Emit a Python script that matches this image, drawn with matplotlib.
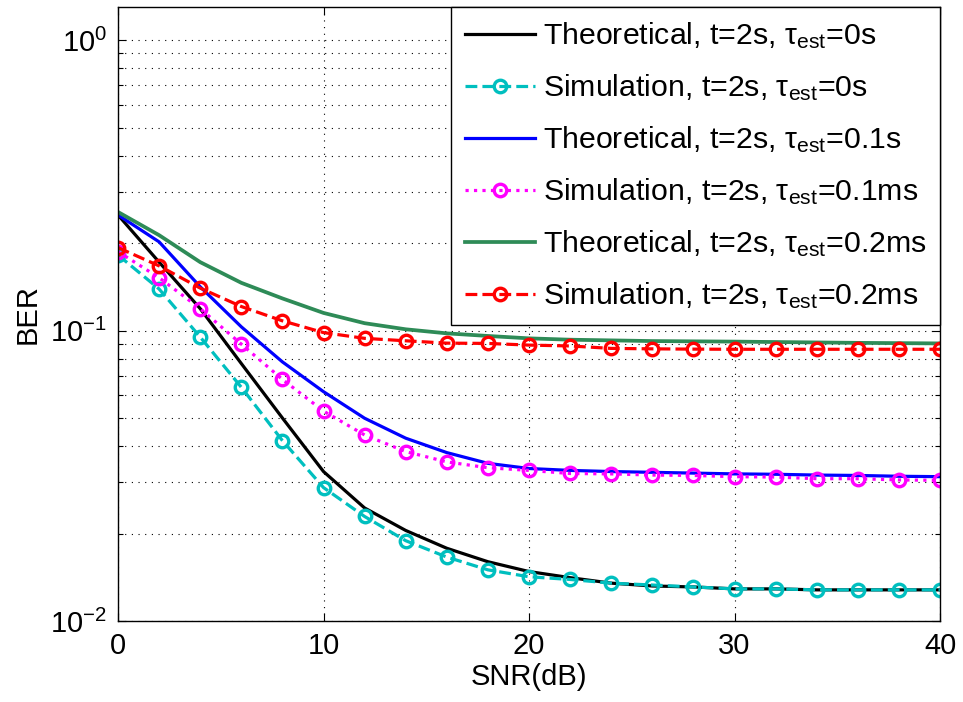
import numpy as np
import matplotlib
matplotlib.use('Agg')
import matplotlib.pyplot as plt
from matplotlib.ticker import LogLocator, NullFormatter, FixedLocator

# ============================================================
# 数据 (从图中读取, SNR 每 2 dB 一个点)
# ============================================================
snr = [0, 2, 4, 6, 8, 10, 12, 14, 16, 18, 20, 22, 24, 26, 28, 30, 32, 34, 36, 38, 40]

ber_theo_0 = [0.25, 0.172, 0.119, 0.077, 0.050, 0.0327, 0.0245, 0.0205, 0.0178, 0.0160, 0.0148,
              0.0141, 0.0135, 0.0132, 0.0131, 0.0129, 0.0129, 0.0128, 0.0128, 0.0128, 0.0128]
ber_sim_0 = [0.182, 0.139, 0.095, 0.0638, 0.0418, 0.0288, 0.0229, 0.0189, 0.0166, 0.0150, 0.0142,
             0.0139, 0.0135, 0.0133, 0.0131, 0.0129, 0.0129, 0.0128, 0.0128, 0.0128, 0.0128]
ber_theo_1 = [0.25, 0.202, 0.1415, 0.103, 0.078, 0.0616, 0.0499, 0.0426, 0.0380, 0.0349, 0.0335,
              0.0330, 0.0327, 0.0325, 0.0323, 0.0321, 0.0320, 0.0318, 0.0317, 0.0315, 0.0314]
ber_sim_1 = [0.187, 0.152, 0.119, 0.0898, 0.0679, 0.0528, 0.0437, 0.0383, 0.0353, 0.0337, 0.0330,
             0.0322, 0.0321, 0.0318, 0.0317, 0.0314, 0.0313, 0.0309, 0.0309, 0.0306, 0.0305]
ber_theo_2 = [0.256, 0.213, 0.172, 0.146, 0.129, 0.115, 0.106, 0.101, 0.0978, 0.0958, 0.0940,
              0.0930, 0.0925, 0.0920, 0.0918, 0.0916, 0.0913, 0.0910, 0.0907, 0.0905, 0.0903]
ber_sim_2 = [0.193, 0.167, 0.140, 0.121, 0.108, 0.0984, 0.0940, 0.0922, 0.0905, 0.0903, 0.0891,
             0.0885, 0.0868, 0.0865, 0.0863, 0.0862, 0.0862, 0.0862, 0.0862, 0.0862, 0.0862]

labels = [
    'Theoretical, t=2s, τ$_{\\mathrm{est}}$=0s',
    'Simulation, t=2s, τ$_{\\mathrm{est}}$=0s',
    'Theoretical, t=2s, τ$_{\\mathrm{est}}$=0.1s',
    'Simulation, t=2s, τ$_{\\mathrm{est}}$=0.1ms',
    'Theoretical, t=2s, τ$_{\\mathrm{est}}$=0.2ms',
    'Simulation, t=2s, τ$_{\\mathrm{est}}$=0.2ms',
]

# ============================================================
# 绘图
# ============================================================
plt.rcParams.update({
    'font.family': ['Liberation Sans', 'DejaVu Sans'],
    'mathtext.fontset': 'custom',
    'mathtext.rm': 'Liberation Sans',
    'mathtext.it': 'Liberation Sans:italic',
    'mathtext.default': 'regular',
    'font.size': 20,
})

fig = plt.figure(figsize=(9.63, 7.02), dpi=100)
ax = fig.add_axes([118 / 963, 81 / 702, 822 / 963, 614 / 702])

lw = 2.3
ms = 9
mew = 2.4
ax.plot(snr, ber_theo_0, '-', color='k', lw=lw, label=labels[0])
ax.plot(snr, ber_sim_0, '--', color='#00BFBF', lw=lw, marker='o', ms=ms, mew=mew,
        mfc='none', label=labels[1])
ax.plot(snr, ber_theo_1, '-', color='#0000FF', lw=lw, label=labels[2])
ax.plot(snr, ber_sim_1, ':', color='#FF00FF', lw=lw, marker='o', ms=ms, mew=mew,
        mfc='none', label=labels[3])
ax.plot(snr, ber_theo_2, '-', color='#2E8B57', lw=lw + 0.4, label=labels[4])
ax.plot(snr, ber_sim_2, '--', color='#FF0000', lw=lw, marker='o', ms=ms, mew=mew,
        mfc='none', label=labels[5])

ax.set_yscale('log')
ax.set_xlim(0, 40)
ax.set_ylim(1e-2, 1.3)
ax.xaxis.set_major_locator(FixedLocator([0, 10, 20, 30, 40]))
ax.yaxis.set_major_locator(LogLocator(base=10, numticks=10))
ax.yaxis.set_minor_locator(LogLocator(base=10, subs=np.arange(2, 10), numticks=10))
ax.yaxis.set_minor_formatter(NullFormatter())

ax.tick_params(which='both', direction='in', top=True, right=True, labelsize=21)
ax.tick_params(which='major', length=6, width=0.8, pad=8)
ax.tick_params(which='minor', length=3.5, width=0.8)
for sp in ax.spines.values():
    sp.set_linewidth(1.0)

grid_ls = (0, (1, 5))
ax.grid(True, which='major', axis='both', color='k', linestyle=grid_ls, lw=0.8)
ax.grid(True, which='minor', axis='y', color='k', linestyle=grid_ls, lw=0.8)

ax.set_xlabel('SNR(dB)', fontsize=21, labelpad=2)
ax.set_ylabel('BER', fontsize=21, labelpad=6)

leg = ax.legend(loc='upper right', fontsize=21.8, fancybox=False, framealpha=1,
                edgecolor='k', borderaxespad=0, handlelength=2.3, handletextpad=0.27,
                labelspacing=0.7, borderpad=0.45, numpoints=1)
leg.get_frame().set_linewidth(1.0)

plt.savefig('out.png', dpi=100)
